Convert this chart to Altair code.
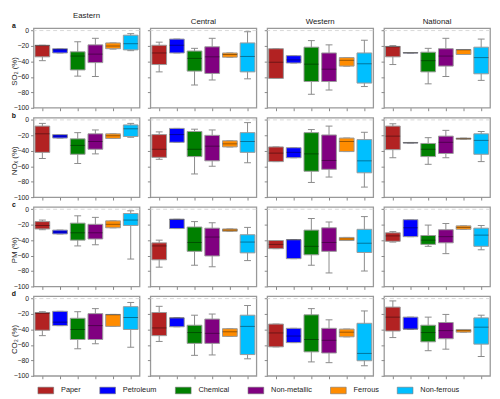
import altair as alt
import pandas as pd

REGIONS = ["Eastern", "Central", "Western", "National"]
CATEGORIES = ["Paper", "Petroleum", "Chemical", "Non-metallic", "Ferrous", "Non-ferrous"]
COLORS = ["#B22222", "#0000FF", "#008000", "#800080", "#FF8C00", "#00BFFF"]
POLLUTANTS = ["SO2", "NOx", "PM", "CO2"]
Y_TITLES = ["SO\u2082 (%)", "NO\u2093 (%)", "PM (%)", "CO\u2082 (%)"]
ROW_LETTERS = ["a", "b", "c", "d"]
Y_TICKS = [0, -20, -40, -60, -80, -100]

# each entry per category: (lower whisker, Q1, median, Q3, upper whisker)
SO2_EASTERN = [(-39, -34, -19.5, -19, -19), (-29, -29, -25, -23.5, -23.5), (-59, -51, -33, -27.5, -14.5),
               (-59.5, -41.5, -30.5, -18.5, -10), (-24, -23.5, -20, -16, -16), (-26, -25, -17, -6, -4)]
SO2_CENTRAL = [(-53.5, -44, -29, -19, -15), (-29, -29, -19, -11, -11), (-70.5, -52.5, -36, -26.5, -23),
               (-64, -55.5, -34, -21, -10), (-34.5, -34.5, -31, -29, -29), (-62.5, -53.5, -33.5, -16, -1.5)]
SO2_WESTERN = [(-62, -62, -41, -23.5, -23.5), (-42, -42, -38, -32.5, -32.5), (-82.5, -66, -43.5, -21.5, -13),
               (-77, -66, -50, -29, -18.5), (-46, -46, -38.5, -35, -35), (-72.5, -68, -43, -29, -12.5)]
SO2_NATIONAL = [(-44, -34, -21, -20.5, -19.5), (-29.2, -29.2, -28.8, -28.4, -28.4), (-69, -53.5, -39, -28, -23),
                (-59.5, -46, -33, -23.5, -10), (-31, -31, -25, -24.5, -24.5), (-64.5, -56, -35, -21.5, -11)]

NOX_EASTERN = [(-50, -42, -18, -8, -4.5), (-23.5, -23.5, -21, -19, -19), (-56.5, -44.5, -33, -24.5, -16.5),
               (-44, -38, -28, -18, -13), (-24, -24, -20.5, -18, -18), (-22.5, -21.5, -11.5, -6.5, -4.5)]
NOX_CENTRAL = [(-51, -48.5, -38, -19, -15.5), (-29, -29, -19, -11, -11), (-70, -47.5, -38, -15, -12),
               (-60, -53, -34, -20, -13), (-35, -35, -31, -27, -27), (-55.5, -42, -28, -16.5, -3.5)]
NOX_WESTERN = [(-54, -54, -43, -35, -35), (-49, -49, -42, -36, -36), (-81, -66.5, -44, -16.5, -12.5),
               (-74, -64, -52.5, -19.5, -8), (-41, -41, -28, -23.5, -23.5), (-87, -68.5, -53, -25.5, -16)]
NOX_NATIONAL = [(-49, -38.5, -21, -8, -5), (-30, -30, -29.6, -29.2, -29.2), (-57.5, -47.5, -38, -30.5, -23),
                (-49, -43.5, -29, -21, -13.5), (-25, -25, -24.3, -23.6, -23.6), (-54, -44.5, -26.5, -18, -15)]

PM_EASTERN = [(-26.5, -25.5, -21, -16, -14), (-32, -32, -29.5, -27, -27), (-47.5, -40, -30.5, -18, -8.5),
              (-46, -38.5, -30.5, -19.5, -10.5), (-24, -24, -19.5, -15, -15), (-64.5, -21, -14, -5.5, -2)]
PM_CENTRAL = [(-75, -65.5, -47.5, -43.5, -40), (-25, -25, -13, -13, -13), (-72.5, -54.5, -43, -23, -16),
              (-74.5, -60.5, -36, -24.5, -17.5), (-28.5, -28.5, -27, -25.5, -25.5), (-66.5, -56.5, -42.5, -33, -23.5)]
PM_WESTERN = [(-51, -51, -45.5, -40.5, -40.5), (-64, -64, -39.5, -39.5, -39.5), (-72.5, -59, -48, -27, -12),
              (-82.5, -54.5, -43, -24, -16.5), (-40.5, -40.5, -38.5, -36.5, -36.5), (-80, -56, -44, -26, -9.5)]
PM_NATIONAL = [(-42.5, -41.5, -34.5, -30.5, -29), (-35.5, -35.5, -24, -13.5, -13.5), (-48, -45.5, -40, -34, -20.5),
               (-57.5, -43.5, -35.5, -26.5, -18.5), (-26, -26, -23.5, -21.5, -21.5), (-52.5, -48, -33.5, -24.5, -21)]

CO2_EASTERN = [(-48, -41, -19, -18, -17), (-35, -35, -30.5, -16.5, -16.5), (-65, -53, -40, -25.5, -17),
               (-58.5, -53, -35, -19.5, -13), (-36, -36, -21, -20.5, -20.5), (-63, -40, -24.5, -10.5, -5)]
CO2_CENTRAL = [(-55.5, -48, -38, -18, -10), (-36.5, -36.5, -25, -25, -25), (-73.5, -58, -44, -34.5, -21.5),
               (-73, -58, -45, -26.5, -20), (-49, -49, -43, -39, -39), (-78, -72.5, -36, -21.5, -9)]
CO2_WESTERN = [(-62.5, -62.5, -44.5, -33, -33), (-57, -57, -48.5, -38.5, -38.5), (-82, -69, -53, -21, -13),
               (-83, -70.5, -54, -38.5, -27.5), (-49.5, -49.5, -43.5, -39.5, -39.5), (-87, -80.5, -71, -32, -16)]
CO2_NATIONAL = [(-50.5, -42, -24, -11, -3), (-39.5, -39.5, -39.5, -24, -24), (-67.5, -56, -44, -34.5, -24),
                (-65.5, -52, -41.5, -31, -20.5), (-43.5, -43.5, -41.5, -40, -40), (-75, -59, -37, -25, -21.5)]

PANELS = [
    [SO2_EASTERN, SO2_CENTRAL, SO2_WESTERN, SO2_NATIONAL],
    [NOX_EASTERN, NOX_CENTRAL, NOX_WESTERN, NOX_NATIONAL],
    [PM_EASTERN, PM_CENTRAL, PM_WESTERN, PM_NATIONAL],
    [CO2_EASTERN, CO2_CENTRAL, CO2_WESTERN, CO2_NATIONAL],
]

W, H = 108, 81
FONT = "Liberation Sans"

legend = alt.Legend(
    title=None, orient="none", legendX=4, legendY=360, direction="horizontal", columns=6,
    symbolType="M-1,-0.42H1V0.42H-1Z", symbolSize=256, symbolStrokeWidth=0.6,
    symbolStrokeColor="#777", symbolOpacity=1,
    labelFontSize=7.5, labelFont=FONT, labelColor="#222", labelOffset=7,
    columnPadding=17, padding=0,
)
color = alt.Color("category:N", scale=alt.Scale(domain=CATEGORIES, range=COLORS), legend=legend)
x_enc = alt.X("category:N", sort=CATEGORIES,
              scale=alt.Scale(domain=CATEGORIES, paddingInner=0, paddingOuter=0),
              axis=alt.Axis(labels=False, title=None, ticks=True, tickSize=3, tickColor="#888",
                            domain=False, grid=False))
yscale = alt.Scale(domain=[-100, 3], nice=False, zero=False)


def make_panel(pi, ri):
    rows = []
    for cat, (lo, q1, med, q3, hi) in zip(CATEGORIES, PANELS[pi][ri]):
        rows.append({"category": cat, "low": lo, "q1": q1, "med": med, "q3": q3, "high": hi})
    d = pd.DataFrame(rows)
    first = ri == 0
    if first:
        yaxis = alt.Axis(values=Y_TICKS, labels=True, labelFontSize=7, labelColor="#222", labelPadding=2,
                         tickSize=3, tickColor="#888", domain=False, grid=False,
                         title=Y_TITLES[pi], titleFontSize=8, titleFontWeight="normal", titleColor="#222",
                         titleX=-19, titleY=H / 2 + 3, titleAngle=-90, titleAlign="center",
                         titleBaseline="middle")
    else:
        yaxis = alt.Axis(values=Y_TICKS, labels=False, tickSize=3, tickColor="#888", domain=False,
                         grid=False, title=None)

    def Y(field):
        return alt.Y(field, scale=yscale, axis=yaxis, title=Y_TITLES[pi] if first else None)

    base = alt.Chart(d).encode(x=x_enc)
    zero = alt.Chart(pd.DataFrame({"z": [0]})).mark_rule(
        color="#d8d8d8", strokeDash=[4, 3], strokeWidth=1).encode(y=Y("z:Q"))
    whisk = base.mark_rule(color="#8a8a8a", strokeWidth=1).encode(y=Y("low:Q"), y2="high:Q")
    cap_lo = base.mark_tick(size=7, thickness=1, color="#8a8a8a", opacity=1).encode(y=Y("low:Q"))
    cap_hi = base.mark_tick(size=7, thickness=1, color="#8a8a8a", opacity=1).encode(y=Y("high:Q"))
    box = base.mark_bar(size=15, stroke="#9a9a9a", strokeWidth=1, opacity=1).encode(
        y=Y("q1:Q"), y2="q3:Q", color=color)
    med = base.mark_tick(size=15, thickness=1, color="#000000", opacity=0.4).encode(y=Y("med:Q"))
    layers = [zero, whisk, cap_lo, cap_hi, box, med]
    if first:
        letter = alt.Chart(pd.DataFrame({"t": [ROW_LETTERS[pi]]})).mark_text(
            fontWeight="bold", fontSize=7, align="center", baseline="middle", color="#111").encode(
            text="t:N", x=alt.value(-20), y=alt.value(-2))
        layers.append(letter)
    ch = alt.layer(*layers).properties(width=W, height=H)
    if pi == 0:
        ch = ch.properties(title=alt.TitleParams(REGIONS[ri], fontSize=8, fontWeight="normal",
                                                 color="#222", offset=2, font=FONT))
    return ch


panels = [make_panel(pi, ri) for pi in range(4) for ri in range(4)]

chart = alt.concat(*panels, columns=4, spacing={"row": 10, "column": 11}, bounds="flush").properties(
    padding={"left": 2, "top": 0, "right": 0, "bottom": 0}
).configure(font=FONT).configure_view(stroke="#999999", strokeWidth=1.3)

chart.save("out.html", embed_options={"renderer": "svg", "actions": False})
